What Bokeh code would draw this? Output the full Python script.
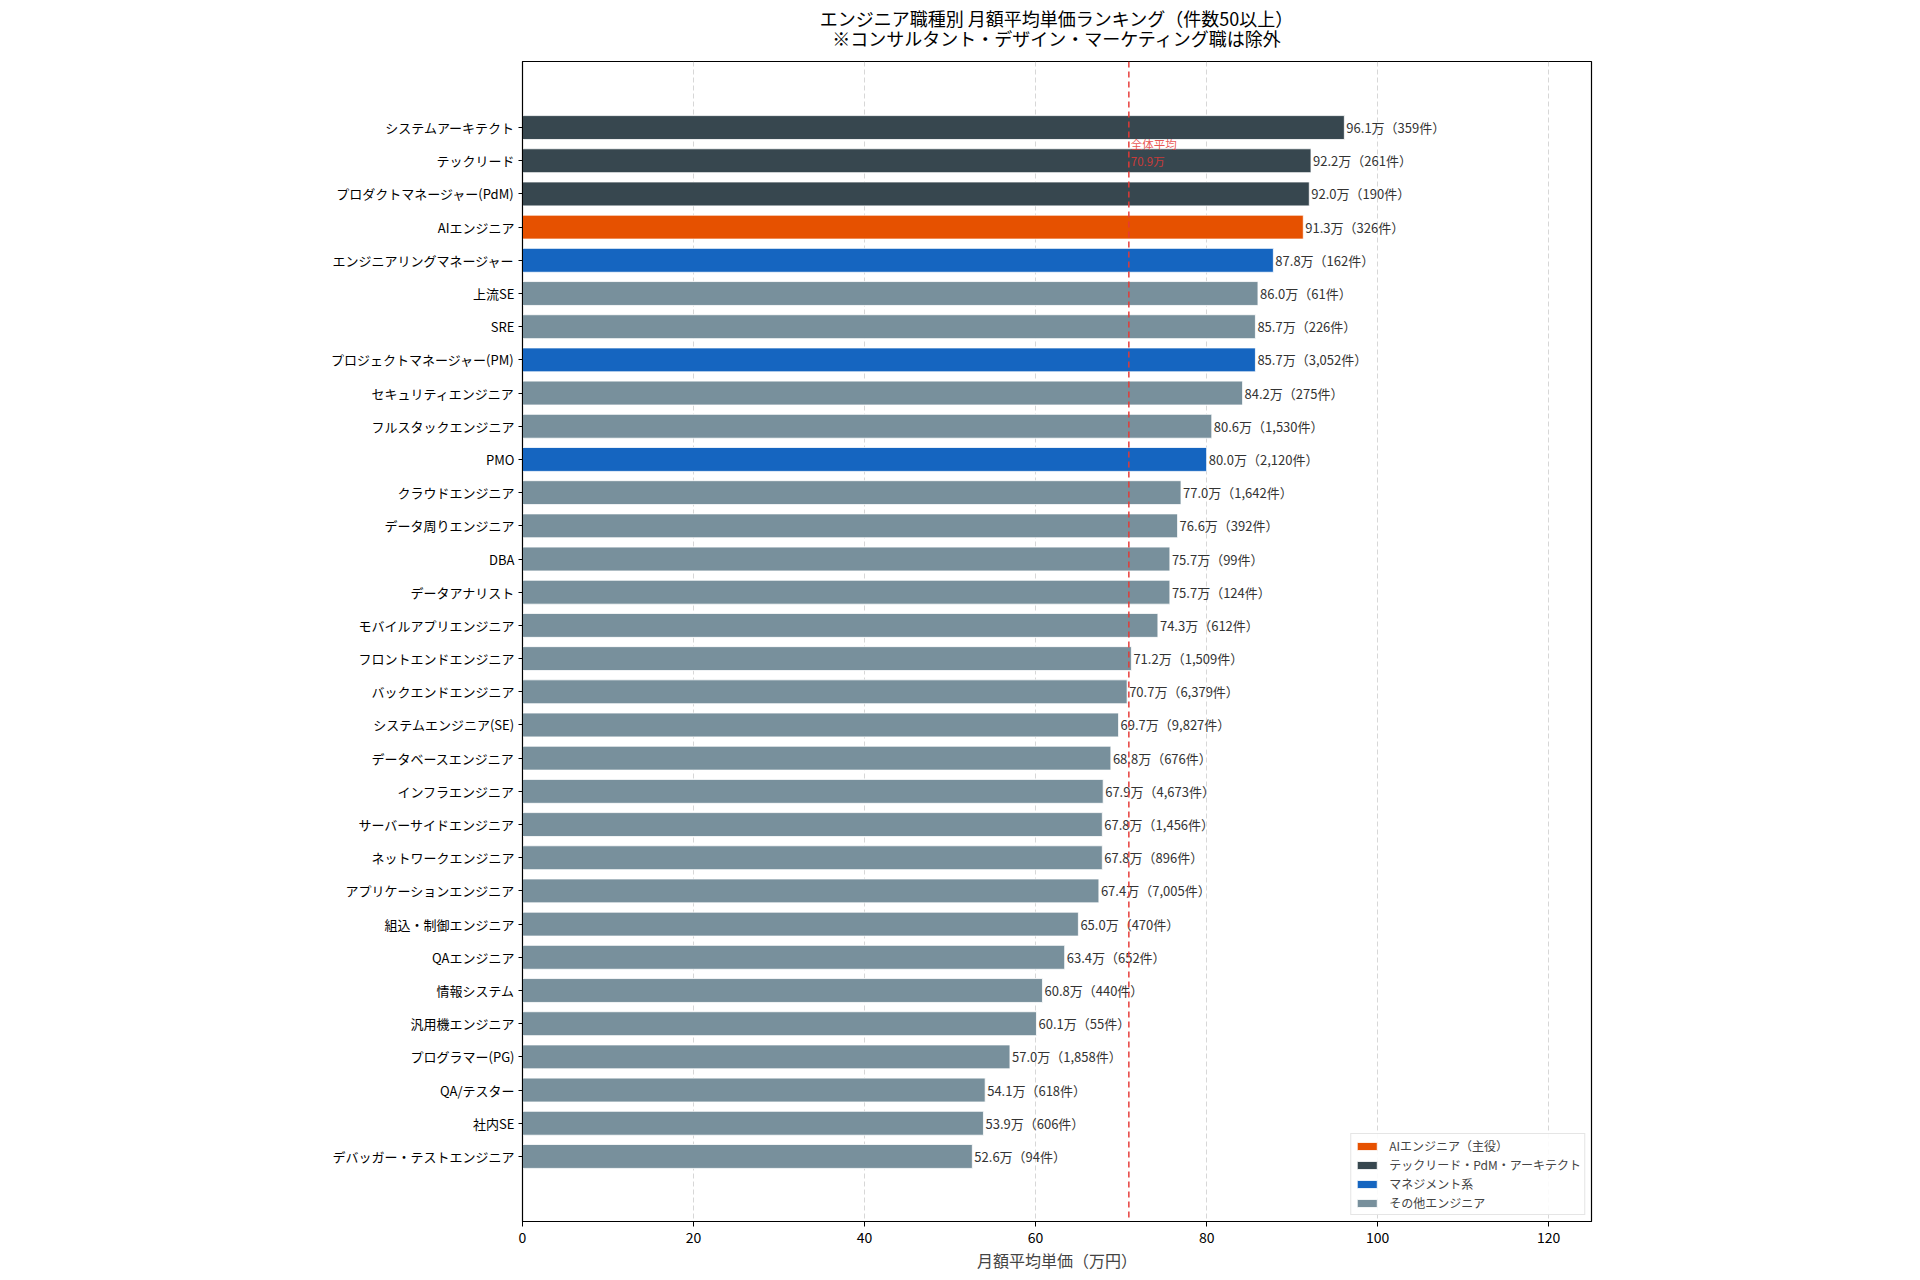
from bokeh.plotting import figure
from bokeh.models import ColumnDataSource, Range1d, FixedTicker, Span, Div
from bokeh.layouts import column
from bokeh.embed import file_html
from bokeh.resources import INLINE
from bokeh.core.properties import value

FONT = "Noto Sans CJK JP"

categories = [
    "システムアーキテクト", "テックリード", "プロダクトマネージャー(PdM)", "AIエンジニア",
    "エンジニアリングマネージャー", "上流SE", "SRE", "プロジェクトマネージャー(PM)",
    "セキュリティエンジニア", "フルスタックエンジニア", "PMO", "クラウドエンジニア",
    "データ周りエンジニア", "DBA", "データアナリスト", "モバイルアプリエンジニア",
    "フロントエンドエンジニア", "バックエンドエンジニア", "システムエンジニア(SE)",
    "データベースエンジニア", "インフラエンジニア", "サーバーサイドエンジニア",
    "ネットワークエンジニア", "アプリケーションエンジニア", "組込・制御エンジニア",
    "QAエンジニア", "情報システム", "汎用機エンジニア", "プログラマー(PG)",
    "QA/テスター", "社内SE", "デバッガー・テストエンジニア",
]
values = [96.1, 92.2, 92.0, 91.3, 87.8, 86.0, 85.7, 85.7, 84.2, 80.6, 80.0, 77.0,
          76.6, 75.7, 75.7, 74.3, 71.2, 70.7, 69.7, 68.8, 67.9, 67.8, 67.8, 67.4,
          65.0, 63.4, 60.8, 60.1, 57.0, 54.1, 53.9, 52.6]
counts = [359, 261, 190, 326, 162, 61, 226, 3052, 275, 1530, 2120, 1642,
          392, 99, 124, 612, 1509, 6379, 9827, 676, 4673, 1456, 896, 7005,
          470, 652, 440, 55, 1858, 618, 606, 94]
groups = ["tech", "tech", "tech", "ai", "mgmt", "other", "other", "mgmt",
          "other", "other", "mgmt", "other", "other", "other", "other", "other",
          "other", "other", "other", "other", "other", "other", "other", "other",
          "other", "other", "other", "other", "other", "other", "other", "other"]
group_order = ["ai", "tech", "mgmt", "other"]
group_labels = {"ai": "AIエンジニア（主役）", "tech": "テックリード・PdM・アーキテクト",
                "mgmt": "マネジメント系", "other": "その他エンジニア"}
group_colors = {"ai": "#E65100", "tech": "#37474F", "mgmt": "#1565C0", "other": "#78909C"}
overall_avg = 70.9
x_ticks = [0, 20, 40, 60, 80, 100, 120]

title_lines = ["エンジニア職種別 月額平均単価ランキング（件数50以上）",
               "※コンサルタント・デザイン・マーケティング職は除外"]

n = len(categories)
idx = list(range(n))

BORDER_LEFT = 522
FRAME_W = 1069
TITLE_H = 50

p = figure(frame_width=FRAME_W, frame_height=1160, output_backend="svg", toolbar_location=None,
           x_range=Range1d(0, 125), y_range=Range1d(n + 0.96, -1.99),
           min_border_left=BORDER_LEFT, min_border_top=11,
           min_border_right=300, min_border_bottom=52)
p.title.visible = False

for g in group_order:
    sel = [i for i in idx if groups[i] == g]
    src = ColumnDataSource(dict(y=[idx[i] for i in sel], v=[values[i] for i in sel]))
    p.hbar(y="y", right="v", left=0, height=0.72, source=src,
           fill_color=group_colors[g], line_color="white", line_width=0.8,
           legend_label=group_labels[g])

labels = [f"{v:.1f}万（{c:,}件）" for v, c in zip(values, counts)]
lsrc = ColumnDataSource(dict(x=values, y=idx, t=labels))
p.text(x="x", y="y", text="t", source=lsrc, x_offset=2, text_baseline="middle",
       text_align="left", text_font=value(FONT), text_font_size="13px", text_color="#333333")

avg = Span(location=overall_avg, dimension="height", line_color="#E53935",
           line_dash="6 4", line_width=1.6, line_alpha=0.9)
p.add_layout(avg)
p.text(x=[overall_avg], y=[0.25], text=["全体平均\n" + f"{overall_avg:.1f}万"], x_offset=2,
       text_baseline="top", text_align="left", text_font=value(FONT),
       text_font_size="11.5px", text_color="#E53935", text_alpha=0.85, text_line_height=1.1)

p.xaxis.ticker = FixedTicker(ticks=x_ticks)
p.xaxis.axis_label = "月額平均単価（万円）"
p.xaxis.axis_label_text_font = FONT
p.xaxis.axis_label_text_font_style = "normal"
p.xaxis.axis_label_text_font_size = "16px"
p.xaxis.axis_label_standoff = 2
p.xaxis.major_label_text_font = FONT
p.xaxis.major_label_text_font_size = "14px"
p.xaxis.major_label_text_color = "#000000"
p.xaxis.minor_tick_line_color = None
p.xaxis.major_tick_out = 5
p.xaxis.major_tick_in = 0

p.yaxis.ticker = FixedTicker(ticks=idx)
p.yaxis.major_label_overrides = {i: c for i, c in enumerate(categories)}
p.yaxis.major_label_text_font = FONT
p.yaxis.major_label_text_font_size = "13px"
p.yaxis.major_label_text_color = "#000000"
p.yaxis.minor_tick_line_color = None
p.yaxis.major_tick_out = 4
p.yaxis.major_tick_in = 0
p.yaxis.major_label_standoff = 4

for ax in (p.xaxis, p.yaxis):
    ax.axis_line_color = "#000000"
    ax.major_tick_line_color = "#000000"

p.ygrid.grid_line_color = None
p.xgrid.ticker = FixedTicker(ticks=x_ticks)
p.xgrid.grid_line_color = "#BDBDBD"
p.xgrid.grid_line_dash = "5 3"
p.xgrid.grid_line_alpha = 0.6

p.outline_line_color = "#000000"
p.outline_line_width = 1.2

lg = p.legend[0]
lg.location = "bottom_right"
lg.label_text_font = FONT
lg.label_text_font_size = "12px"
lg.glyph_width = 25
lg.glyph_height = 10
lg.label_height = 12
lg.label_standoff = 10
lg.spacing = 2
lg.padding = 3
lg.margin = 6
lg.border_line_color = "#CCCCCC"
lg.background_fill_alpha = 0.9

title_html = (
    "<div style=\"font-family:'Noto Sans CJK JP',sans-serif;font-size:18px;line-height:20px;"
    "text-align:center;color:#000000;padding-top:8px;width:%dpx;\">%s<br>%s</div>"
    % (FRAME_W, title_lines[0], title_lines[1])
)
title_div = Div(text=title_html, width=FRAME_W, height=TITLE_H, margin=(0, 0, 0, BORDER_LEFT))

layout = column(title_div, p, spacing=0)

open("out.html", "w").write(file_html(layout, INLINE))
